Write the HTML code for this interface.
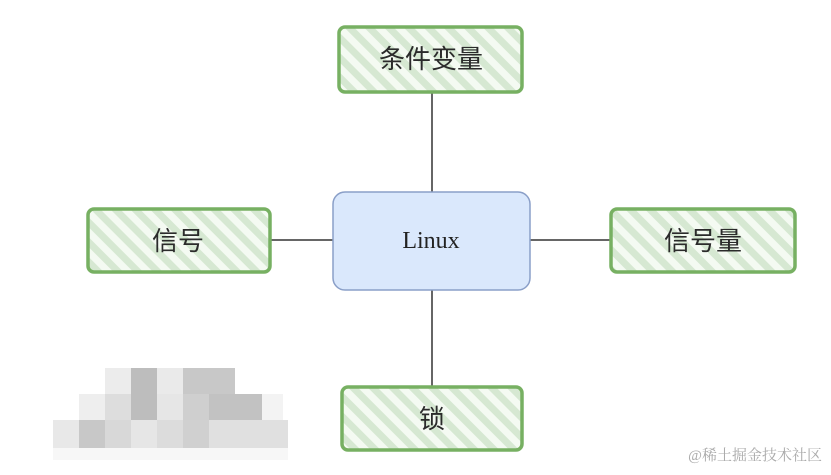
<!DOCTYPE html>
<html><head><meta charset="utf-8"><style>
html,body{margin:0;padding:0;background:#fff;width:831px;height:475px;overflow:hidden}
svg{display:block}
.t{font-family:"Liberation Sans","Noto Sans CJK SC",sans-serif;font-size:26px;fill:#2b2b2b;text-anchor:middle;dominant-baseline:central}
</style></head><body>
<svg width="831" height="475" viewBox="0 0 831 475">
<defs>
<pattern id="h" patternUnits="userSpaceOnUse" width="14" height="14" patternTransform="rotate(-45)">
<rect width="14" height="14" fill="#f4faf2"/>
<rect width="7" height="14" fill="#d6e8d2"/>
</pattern>
</defs>
<g stroke="#333" stroke-width="1.5">
<line x1="432" y1="92" x2="432" y2="192"/>
<line x1="432" y1="290" x2="432" y2="386"/>
<line x1="270" y1="240" x2="333" y2="240"/>
<line x1="530" y1="240" x2="610" y2="240"/>
</g>
<rect x="333" y="192" width="197" height="98" rx="12" fill="#dae8fc" stroke="#8a9fc8" stroke-width="1.5"/>
<text x="431" y="241" class="t" style="font-family:'Liberation Serif',serif;font-size:24px;fill:#222">Linux</text>
<g fill="url(#h)" stroke="#77b062" stroke-width="3.5">
<rect x="339" y="27" width="183" height="65" rx="6"/>
<rect x="88" y="209" width="182" height="63" rx="6"/>
<rect x="611" y="209" width="184" height="63" rx="6"/>
<rect x="342" y="387" width="180" height="63" rx="6"/>
</g>
<text x="431" y="59" class="t">条件变量</text>
<text x="178" y="241" class="t">信号</text>
<text x="703" y="241" class="t">信号量</text>
<text x="432" y="419" class="t">锁</text>
<g>
<rect x="105" y="368" width="26" height="26" fill="#ececec"/>
<rect x="131" y="368" width="26" height="26" fill="#bdbdbd"/>
<rect x="157" y="368" width="26" height="26" fill="#eaeaea"/>
<rect x="183" y="368" width="52" height="26" fill="#c8c8c8"/>
<rect x="79" y="394" width="26" height="26" fill="#eeeeee"/>
<rect x="105" y="394" width="26" height="26" fill="#dddddd"/>
<rect x="131" y="394" width="26" height="26" fill="#bdbdbd"/>
<rect x="157" y="394" width="26" height="26" fill="#e6e6e6"/>
<rect x="183" y="394" width="26" height="26" fill="#cfcfcf"/>
<rect x="209" y="394" width="53" height="26" fill="#c2c2c2"/>
<rect x="262" y="394" width="21" height="26" fill="#f3f3f3"/>
<rect x="53" y="420" width="26" height="28" fill="#e8e8e8"/>
<rect x="79" y="420" width="26" height="28" fill="#c8c8c8"/>
<rect x="105" y="420" width="26" height="28" fill="#d8d8d8"/>
<rect x="131" y="420" width="26" height="28" fill="#e6e6e6"/>
<rect x="157" y="420" width="26" height="28" fill="#dcdcdc"/>
<rect x="183" y="420" width="26" height="28" fill="#d0d0d0"/>
<rect x="209" y="420" width="79" height="28" fill="#e0e0e0"/>
<rect x="53" y="448" width="235" height="12" fill="#f7f7f7"/>
</g>
<text x="822" y="460" style="font-family:'Liberation Serif','Noto Serif CJK SC',serif;font-size:15px;fill:#aaa;text-anchor:end">@稀土掘金技术社区</text>
</svg>
</body></html>
